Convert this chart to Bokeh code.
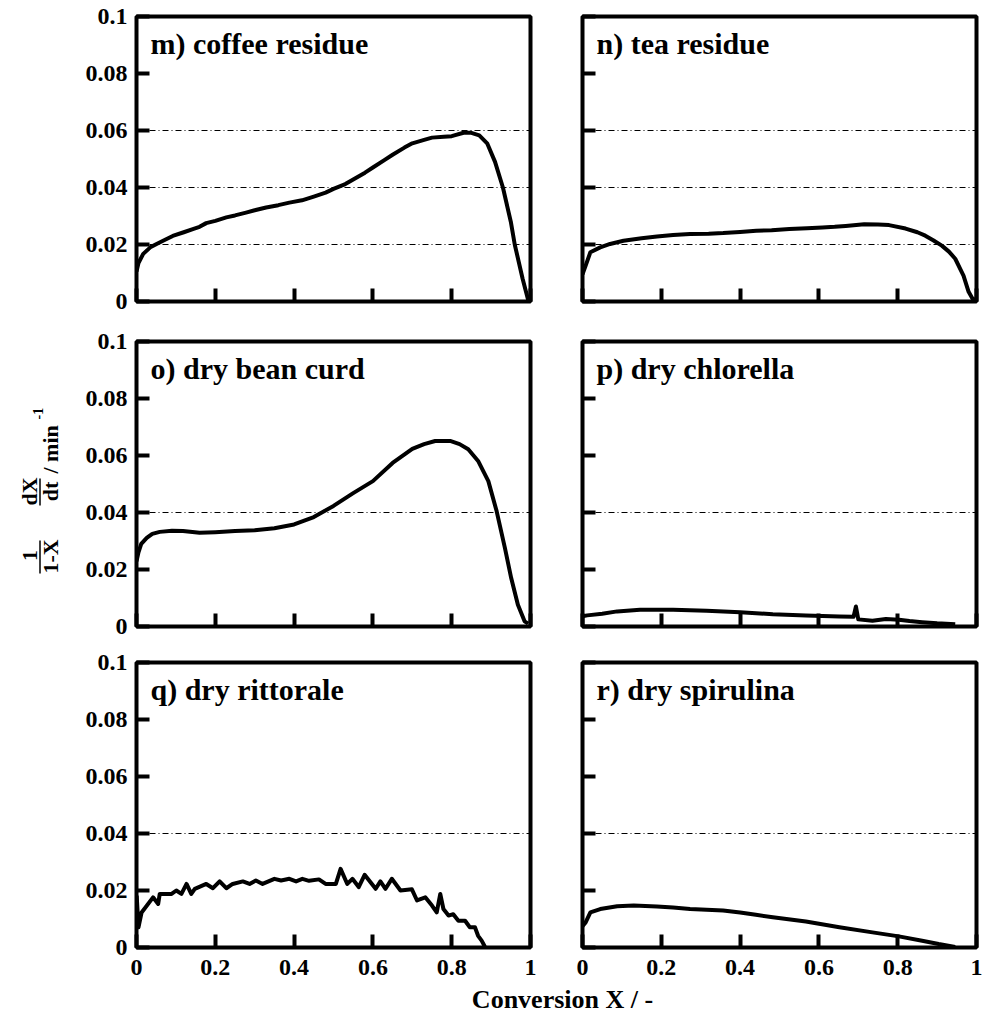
import math
from bokeh.plotting import figure
from bokeh.layouts import row, column
from bokeh.models import FixedTicker, Range1d, Arrow
from bokeh.core.properties import value
from bokeh.embed import file_html
from bokeh.resources import INLINE

FONT = "Liberation Serif"

# ---------------- data ----------------
x_ticks = [0, 0.2, 0.4, 0.6, 0.8, 1.0]
x_tick_labels = ["0", "0.2", "0.4", "0.6", "0.8", "1"]
y_ticks = [0, 0.02, 0.04, 0.06, 0.08, 0.1]
y_tick_labels = ["0", "0.02", "0.04", "0.06", "0.08", "0.1"]

titles = ["m) coffee residue", "n) tea residue", "o) dry bean curd",
          "p) dry chlorella", "q) dry rittorale", "r) dry spirulina"]

ref_m = [0.02, 0.04, 0.06]
ref_n = [0.02, 0.04, 0.06]
ref_o = [0.04]
ref_p = [0.04]
ref_q = [0.04]
ref_r = [0.04]

m_x = [0.0, 0.005, 0.017, 0.035, 0.051, 0.07, 0.092, 0.12, 0.143, 0.16, 0.177, 0.2,
       0.228, 0.25, 0.278, 0.3, 0.329, 0.36, 0.388, 0.42, 0.45, 0.48, 0.5, 0.53,
       0.55, 0.58, 0.6, 0.63, 0.65, 0.68, 0.7, 0.73, 0.75, 0.78, 0.8, 0.83, 0.85,
       0.87, 0.89, 0.91, 0.93, 0.95, 0.96, 0.98, 0.995]
m_y = [0.0105, 0.0135, 0.0167, 0.019, 0.0202, 0.0215, 0.023, 0.0243, 0.0254, 0.0262,
       0.0275, 0.0283, 0.0295, 0.0302, 0.0312, 0.032, 0.033, 0.0338, 0.0347, 0.0355,
       0.0368, 0.0382, 0.0395, 0.0412, 0.0428, 0.0452, 0.047, 0.0497, 0.0515, 0.054,
       0.0555, 0.0567, 0.0575, 0.0578, 0.058, 0.0592, 0.0592, 0.0583, 0.0555, 0.049,
       0.040, 0.028, 0.020, 0.008, 0.0]

n_x = [0.0, 0.008, 0.02, 0.045, 0.07, 0.104, 0.15, 0.189, 0.23, 0.273, 0.32, 0.357,
       0.4, 0.441, 0.48, 0.525, 0.57, 0.609, 0.64, 0.668, 0.715, 0.75, 0.778, 0.82,
       0.85, 0.87, 0.89, 0.912, 0.93, 0.946, 0.967, 0.98, 0.99, 0.997]
n_y = [0.0095, 0.0126, 0.0173, 0.019, 0.0202, 0.0213, 0.0222, 0.0228, 0.0233, 0.0237,
       0.0238, 0.024, 0.0244, 0.0248, 0.025, 0.0254, 0.0257, 0.026, 0.0262, 0.0265,
       0.0271, 0.027, 0.0268, 0.0256, 0.0243, 0.0231, 0.0215, 0.0196, 0.0175, 0.015,
       0.0091, 0.0034, 0.001, 0.0005]

o_x = [0.0, 0.005, 0.012, 0.026, 0.04, 0.059, 0.09, 0.118, 0.16, 0.2, 0.25, 0.3,
       0.35, 0.4, 0.45, 0.5, 0.55, 0.6, 0.65, 0.7, 0.73, 0.758, 0.796, 0.82, 0.842,
       0.867, 0.893, 0.914, 0.935, 0.951, 0.968, 0.985, 0.994]
o_y = [0.0229, 0.026, 0.029, 0.0311, 0.0325, 0.0332, 0.0336, 0.0335, 0.0329, 0.0331,
       0.0335, 0.0338, 0.0345, 0.0358, 0.0384, 0.0423, 0.0468, 0.051, 0.0574, 0.0623,
       0.064, 0.0651, 0.0651, 0.064, 0.0622, 0.0581, 0.051, 0.0405, 0.0276, 0.017,
       0.0076, 0.0018, 0.001]

p_x = [0.0, 0.012, 0.05, 0.088, 0.146, 0.23, 0.315, 0.4, 0.483, 0.567, 0.652, 0.688,
       0.694, 0.7, 0.736, 0.77, 0.803, 0.83, 0.862, 0.9, 0.946]
p_y = [0.0036, 0.0039, 0.0045, 0.0053, 0.0059, 0.0059, 0.0055, 0.005, 0.0043, 0.0039,
       0.0035, 0.0034, 0.007, 0.0025, 0.002, 0.0026, 0.0024, 0.0019, 0.0015, 0.0011,
       0.0008]

q_x = [0.0005, 0.005, 0.013, 0.042, 0.055, 0.059, 0.089, 0.101, 0.114, 0.127, 0.139,
       0.148, 0.177, 0.194, 0.211, 0.228, 0.244, 0.27, 0.287, 0.303, 0.32, 0.35, 0.367,
       0.388, 0.405, 0.421, 0.438, 0.463, 0.48, 0.506, 0.518, 0.535, 0.548, 0.564,
       0.579, 0.594, 0.607, 0.619, 0.632, 0.648, 0.67, 0.699, 0.712, 0.733, 0.75,
       0.762, 0.771, 0.779, 0.792, 0.804, 0.817, 0.834, 0.846, 0.859, 0.867, 0.876,
       0.883, 0.885]
q_y = [0.0182, 0.0071, 0.0123, 0.0176, 0.0153, 0.0188, 0.0188, 0.02, 0.0188, 0.0223,
       0.0188, 0.0206, 0.0223, 0.0208, 0.0232, 0.0208, 0.0223, 0.0232, 0.0223, 0.0235,
       0.0223, 0.0241, 0.0235, 0.0241, 0.0232, 0.0241, 0.0234, 0.0239, 0.0223, 0.0223,
       0.0276, 0.0223, 0.0241, 0.0212, 0.0255, 0.0229, 0.0206, 0.0232, 0.0206, 0.0241,
       0.02, 0.0204, 0.0165, 0.0176, 0.0147, 0.0123, 0.0188, 0.0135, 0.0112, 0.0117,
       0.0094, 0.0094, 0.0071, 0.0071, 0.0041, 0.0024, 0.0006, 0.0]

r_x = [0.0, 0.008, 0.02, 0.045, 0.088, 0.13, 0.189, 0.23, 0.273, 0.357, 0.4, 0.44,
       0.483, 0.567, 0.652, 0.736, 0.803, 0.862, 0.904, 0.946]
r_y = [0.0075, 0.0088, 0.0123, 0.0135, 0.0145, 0.0147, 0.0144, 0.014, 0.0135, 0.013,
       0.0123, 0.0115, 0.0106, 0.0091, 0.0071, 0.0053, 0.0039, 0.0024, 0.0012, 0.0002]

series = [(m_x, m_y, ref_m), (n_x, n_y, ref_n), (o_x, o_y, ref_o),
          (p_x, p_y, ref_p), (q_x, q_y, ref_q), (r_x, r_y, ref_r)]

# ---------------- layout geometry ----------------
FRAME_W = 394
FRAME_H = 285
K = 0.1 / FRAME_H            # y data units per pixel
STRIP_W = 130                # y tick label / y title strip
XT_H = 29                    # x tick label strip height
XL_H = 35                    # x title strip height
row_borders = [(16, 20), (20, 18), (18, 4)]
col_borders = [(6, 14), (38, 8)]   # (left, right) borders of panel columns

TXT = dict(text_font=value(FONT), text_font_style="bold", text_color="black")


def bare(p):
    p.axis.visible = False
    p.grid.visible = False
    p.outline_line_color = None
    p.background_fill_color = None
    p.border_fill_color = "white"
    return p


def make_panel(idx):
    xs, ys, refs = series[idx]
    r, c = divmod(idx, 2)
    bt, bb = row_borders[r]
    bl, br = col_borders[c]
    p = figure(width=bl + FRAME_W + br, height=bt + FRAME_H + bb,
               x_range=Range1d(0, 1), y_range=Range1d(0, 0.1),
               output_backend="svg", toolbar_location=None, title=None,
               min_border_left=bl, min_border_right=br,
               min_border_top=bt, min_border_bottom=bb)
    p.outline_line_color = "black"
    p.outline_line_width = 4
    p.background_fill_color = "white"
    p.border_fill_color = "white"

    p.xgrid.visible = False
    g = p.ygrid[0]
    g.ticker = FixedTicker(ticks=refs)
    g.grid_line_color = "black"
    g.grid_line_width = 1
    g.grid_line_dash = "6 3 1 3"

    for ax, ticks in ((p.xaxis[0], x_ticks), (p.yaxis[0], y_ticks)):
        ax.ticker = FixedTicker(ticks=ticks)
        ax.axis_line_color = None
        ax.major_tick_in = 13
        ax.major_tick_out = 0
        ax.major_tick_line_width = 4
        ax.major_tick_line_color = "black"
        ax.minor_tick_line_color = None
        ax.major_label_text_font_size = "0px"
        ax.major_label_text_color = None
        ax.major_label_standoff = 0

    for v in refs:
        p.add_layout(Arrow(end=None, start=None, x_start=-0.024, y_start=v,
                           x_end=0.0, y_end=v, line_color="black",
                           line_width=1, line_dash="6 3 1 3"))

    p.line(xs, ys, line_color="black", line_width=4, line_join="round")

    p.text(x=[14 / FRAME_W], y=[0.1 - 27 * K], text=[titles[idx]],
           text_font_size="30px", text_align="left", text_baseline="middle", **TXT)
    return p


panels = [make_panel(i) for i in range(6)]

# ---------------- left strips: y tick labels (+ y title in row 2) ----------------
strips = []
for r, (bt, bb) in enumerate(row_borders):
    total_bb = bb + (XT_H if r == 2 else 0)
    et, eb = min(15, bt), min(15, total_bb)
    s = figure(width=STRIP_W, height=bt + FRAME_H + total_bb,
               x_range=Range1d(0, STRIP_W), y_range=Range1d(-eb * K, 0.1 + et * K),
               output_backend="svg", toolbar_location=None, title=None,
               min_border_left=0, min_border_right=0,
               min_border_top=bt - et, min_border_bottom=total_bb - eb)
    bare(s)
    s.text(x=[STRIP_W - 3] * len(y_ticks), y=y_ticks, text=y_tick_labels,
           text_font_size="24px", text_align="right", text_baseline="middle", **TXT)
    strips.append(s)

# y title on the middle strip (image rows converted to that panel's data units)
ys_ = strips[1]
FB = 626  # image y of the middle row's frame bottom


def dy(img_y):
    return (FB - img_y) * K


rot = dict(angle=math.pi / 2, text_baseline="middle", **TXT)
ys_.text(x=[29], y=[dy(555)], text=["1"], text_font_size="22px", text_align="center", **rot)
ys_.text(x=[50], y=[dy(556)], text=["1-X"], text_font_size="22px", text_align="center", **rot)
ys_.text(x=[29], y=[dy(491)], text=["dX"], text_font_size="22px", text_align="center", **rot)
ys_.text(x=[50], y=[dy(491)], text=["dt"], text_font_size="22px", text_align="center", **rot)
ys_.text(x=[50], y=[dy(473)], text=["/ min"], text_font_size="22px", text_align="left", **rot)
ys_.text(x=[37.5], y=[dy(419)], text=["-1"], text_font_size="14px", text_align="left", **rot)
ys_.segment(x0=[39.5, 39.5], y0=[dy(540), dy(478)], x1=[39.5, 39.5], y1=[dy(573), dy(505)],
            line_color="black", line_width=1.5)

# ---------------- bottom strips: x tick labels ----------------
xstrips = []
for c, (bl, br) in enumerate(col_borders):
    xs_ = figure(width=bl + FRAME_W + br, height=XT_H,
                 x_range=Range1d(-bl / FRAME_W, 1 + br / FRAME_W), y_range=Range1d(0, XT_H),
                 output_backend="svg", toolbar_location=None, title=None, min_border=0)
    bare(xs_)
    xs_.text(x=x_ticks, y=[XT_H - 15.5] * len(x_ticks), text=x_tick_labels,
             text_font_size="24px", text_align="center", text_baseline="middle", **TXT)
    xstrips.append(xs_)

# ---------------- x title ----------------
full_w = STRIP_W + panels[0].width + panels[1].width
xl = figure(width=full_w, height=XL_H, x_range=Range1d(0, full_w), y_range=Range1d(0, XL_H),
            output_backend="svg", toolbar_location=None, title=None, min_border=0)
bare(xl)
xl.text(x=[562], y=[16], text=["Conversion X / -"], text_font_size="26px",
        text_align="center", text_baseline="middle", **TXT)

panel_col = column(row(panels[0], panels[1]), row(panels[2], panels[3]),
                   row(panels[4], panels[5]), row(xstrips[0], xstrips[1]))
layout = column(row(column(*strips), panel_col), xl)

open("out.html", "w").write(file_html(layout, INLINE))
